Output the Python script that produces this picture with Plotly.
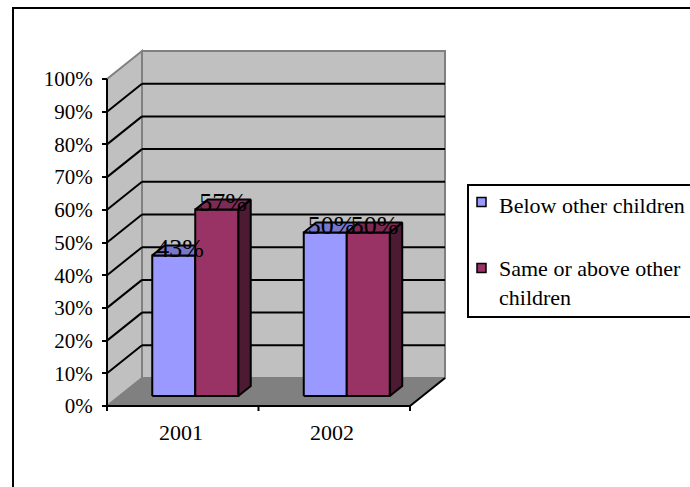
import plotly.graph_objects as go

# ---- data -------------------------------------------------------------
categories = ["2001", "2002"]
series_names = ["Below other children", "Same or above other children"]
below_other = [43, 50]
same_or_above = [57, 50]
value_ticks = list(range(0, 101, 10))
value_tick_labels = [f"{v}%" for v in value_ticks]

series_values = [below_other, same_or_above]
front_colors = ["#9999FF", "#993366"]
top_colors = ["#7777CC", "#7D2A55"]
side_colors = ["#5C5C99", "#4D1A33"]

# ---- 3-D box geometry (x in pixels, y in percent units) --------------
W, H = 690, 487
PX_PER_PCT = 3.27          # vertical pixels per percentage point
BASE_PX = 406              # pixel row of the 0% front edge
X_LEFT, X_RIGHT = 107, 410 # front edge of the floor
DEPTH_X = 35               # horizontal shift from front to back wall
DEPTH_Y = 28 / PX_PER_PCT  # vertical shift from front to back wall
BAR_W = 43
BAR_Z0, BAR_Z1 = 0.357, 0.714
SERIF = "Liberation Serif, Times New Roman, serif"


def pct(px_row):
    """Convert a pixel row to the value axis."""
    return (BASE_PX - px_row) / PX_PER_PCT


def proj(x, v, z):
    """Oblique projection of (x, value, depth) onto the axes."""
    return x + z * DEPTH_X, v + z * DEPTH_Y


def poly_path(points):
    return "M " + " L ".join(f"{a},{b}" for a, b in points) + " Z"


shapes = []
ann = []


def add_poly(points, fill, line_color, width=1.5, layer="below"):
    shapes.append(dict(type="path", xref="x", yref="y", path=poly_path(points),
                       fillcolor=fill, line=dict(color=line_color, width=width),
                       layer=layer))


def add_line(p0, p1, color="black", width=2, layer="below"):
    shapes.append(dict(type="line", xref="x", yref="y",
                       x0=p0[0], y0=p0[1], x1=p1[0], y1=p1[1],
                       line=dict(color=color, width=width), layer=layer))


# outer chart frame
shapes.append(dict(type="rect", xref="x", yref="y", x0=13, x1=W + 40,
                   y0=pct(8), y1=pct(H + 40), line=dict(color="black", width=2),
                   fillcolor="rgba(0,0,0,0)", layer="below"))

# back wall, side wall and floor
add_poly([proj(X_LEFT, 0, 1), proj(X_RIGHT, 0, 1), proj(X_RIGHT, 100, 1),
          proj(X_LEFT, 100, 1)], "#C0C0C0", "#808080", 2)
add_poly([proj(X_LEFT, 0, 0), proj(X_LEFT, 0, 1), proj(X_LEFT, 100, 1),
          proj(X_LEFT, 100, 0)], "#C0C0C0", "#808080", 2)
add_poly([proj(X_LEFT, 0, 0), proj(X_RIGHT, 0, 0), proj(X_RIGHT, 0, 1),
          proj(X_LEFT, 0, 1)], "#808080", "#808080", 1)

# gridlines on the walls
for v in value_ticks[1:-1]:
    add_line(proj(X_LEFT, v, 0), proj(X_LEFT, v, 1))
    add_line(proj(X_LEFT, v, 1), proj(X_RIGHT, v, 1))

# value axis line, category axis line, floor edge
add_line(proj(X_LEFT, 0, 0), proj(X_LEFT, 100, 0))
add_line(proj(X_LEFT, 0, 0), proj(X_RIGHT, 0, 0))
add_line(proj(X_RIGHT, 0, 0), proj(X_RIGHT, 0, 1))

# category tick marks and labels
cat_w = (X_RIGHT - X_LEFT) / len(categories)
for k in range(len(categories) + 1):
    xk = X_LEFT + k * cat_w
    add_line((xk, 0), (xk, -5 / PX_PER_PCT))
for i, cat in enumerate(categories):
    c = X_LEFT + (i + 0.5) * cat_w
    ann.append(dict(x=c - 2, y=pct(432), xref="x", yref="y", text=cat,
                    showarrow=False, font=dict(family=SERIF, size=22, color="black")))

# ---- bars --------------------------------------------------------------
fig = go.Figure()
label_x, label_y, label_t = [], [], []
for i, cat in enumerate(categories):
    c = X_LEFT + (i + 0.5) * cat_w
    for j, vals in enumerate(series_values):
        v = vals[i]
        x0 = c - BAR_W + j * BAR_W
        x1 = x0 + BAR_W
        faces = [
            ([proj(x1, 0, BAR_Z0), proj(x1, 0, BAR_Z1), proj(x1, v, BAR_Z1),
              proj(x1, v, BAR_Z0)], side_colors[j]),
            ([proj(x0, 0, BAR_Z0), proj(x1, 0, BAR_Z0), proj(x1, v, BAR_Z0),
              proj(x0, v, BAR_Z0)], front_colors[j]),
            ([proj(x0, v, BAR_Z0), proj(x1, v, BAR_Z0), proj(x1, v, BAR_Z1),
              proj(x0, v, BAR_Z1)], top_colors[j]),
        ]
        for pts, col in faces:
            xs = [p[0] for p in pts] + [pts[0][0]]
            ys = [p[1] for p in pts] + [pts[0][1]]
            fig.add_trace(go.Scatter(x=xs, y=ys, mode="lines", fill="toself",
                                     fillcolor=col, line=dict(color="black", width=2),
                                     hoverinfo="skip", showlegend=False))
        zc = (BAR_Z0 + BAR_Z1) / 2
        lx, ly = proj((x0 + x1) / 2, v, zc)
        label_x.append(lx)
        label_y.append(ly)
        label_t.append(f"{v}%")

fig.add_trace(go.Scatter(x=label_x, y=label_y, mode="text", text=label_t,
                         textposition="middle center", cliponaxis=False,
                         textfont=dict(family=SERIF, size=26, color="black"),
                         hoverinfo="skip", showlegend=False))

# ---- legend box --------------------------------------------------------
shapes.append(dict(type="rect", xref="x", yref="y", x0=468, x1=W + 40,
                   y0=pct(185), y1=pct(317), line=dict(color="black", width=2),
                   fillcolor="white", layer="above"))
# (marker row, block centre, wrapped label)
legend_rows = [(202, 205, series_names[0]),
               (268, 283, "Same or above other<br>children")]
for j, (row_px, text_px, txt) in enumerate(legend_rows):
    shapes.append(dict(type="rect", xref="x", yref="y", x0=477, x1=486,
                       y0=pct(row_px - 4.5), y1=pct(row_px + 4.5),
                       fillcolor=front_colors[j], line=dict(color="black", width=1.5),
                       layer="above"))
    ann.append(dict(x=497, y=pct(text_px), xref="x", yref="y",
                    text=txt, showarrow=False, xanchor="left", yanchor="middle",
                    align="left", font=dict(family=SERIF, size=22, color="black")))

fig.update_layout(
    width=W, height=H,
    margin=dict(l=0, r=0, t=0, b=0),
    paper_bgcolor="white", plot_bgcolor="white",
    showlegend=False,
    shapes=shapes, annotations=ann,
    xaxis=dict(range=[0, W], visible=False, fixedrange=True),
    yaxis=dict(range=[pct(H), pct(0)], domain=[0, 1], anchor="free",
               position=X_LEFT / W, side="left",
               tickmode="array", tickvals=value_ticks, ticktext=value_tick_labels,
               ticks="outside", ticklen=5, tickwidth=2, tickcolor="black",
               showgrid=False, zeroline=False, showline=False,
               ticklabelstandoff=5,
               tickfont=dict(family=SERIF, size=21, color="black")),
)

fig.write_html("out.html")
